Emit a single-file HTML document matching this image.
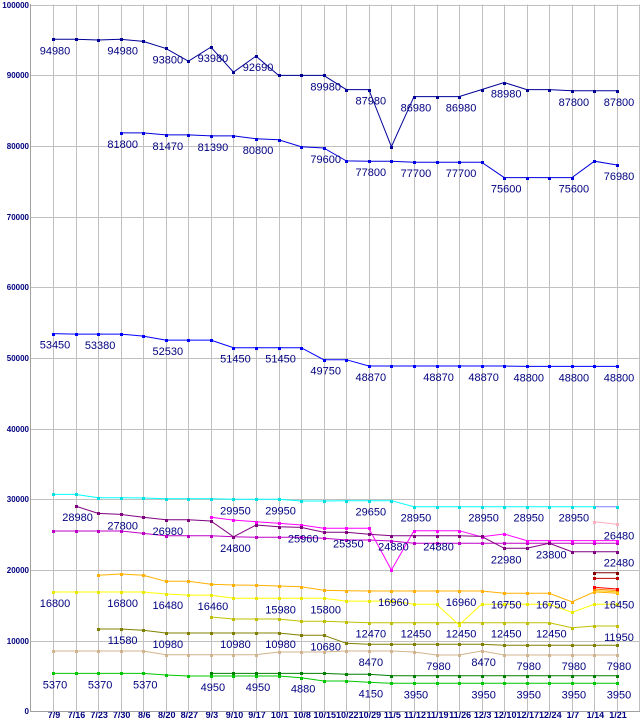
<!DOCTYPE html>
<html><head><meta charset="utf-8"><style>
html,body{margin:0;padding:0;background:#fff;}
svg{display:block;font-family:"Liberation Sans",sans-serif;}
</style></head><body>
<svg id="chart" width="640" height="720" viewBox="0 0 640 720" xmlns="http://www.w3.org/2000/svg">
<g id="grid"></g>
<g id="series"></g>
<g id="labels"></g>
<g id="axes"></g>
</svg>
<script>
const categories = ["7/9","7/16","7/23","7/30","8/6","8/20","8/27","9/3","9/10","9/17","10/1","10/8","10/15","10/22","10/29","11/5","11/12","11/19","11/26","12/3","12/10","12/17","12/24","1/7","1/14","1/21"];
const yTicks = [0,10000,20000,30000,40000,50000,60000,70000,80000,90000,100000];

const s1Start = 0;
const s1Values = [95090,95090,94990,95090,94800,93800,92000,93990,90440,92710,89980,89980,89980,87980,87980,79900,86980,86980,86980,87980,88980,87980,87980,87800,87800,87800];
const s1Labels = [[0,94980],[3,94980],[5,93800],[7,93980],[9,92690],[12,89980],[14,87980],[16,86980],[18,86980],[20,88980],[23,87800],[25,87800]];

const s2Start = 3;
const s2Values = [81850,81850,81570,81570,81430,81430,81010,80870,79890,79710,77890,77850,77850,77700,77700,77700,77700,75530,75530,75530,75530,77850,77300];
const s2Labels = [[3,81800],[5,81470],[7,81390],[9,80800],[12,79600],[14,77800],[16,77700],[18,77700],[20,75600],[23,75600],[25,76980]];

const s3Start = 0;
const s3Values = [53450,53380,53380,53380,53100,52530,52530,52530,51450,51450,51450,51450,49750,49750,48870,48870,48870,48870,48870,48870,48870,48800,48800,48800,48800,48800];
const s3Labels = [[0,53450],[2,53380],[5,52530],[8,51450],[10,51450],[12,49750],[14,48870],[17,48870],[19,48870],[21,48800],[23,48800],[25,48800]];

const cyanStart = 0;
const cyanValues = [30700,30700,30230,30230,30180,30090,30090,30090,30000,30000,30000,29760,29760,29800,29800,29800,28950,28950,28950,28950,28950,28950,28950,28950,28950];
const cyanLabels = [[8,29950],[10,29950],[14,29650],[16,28950],[19,28950],[21,28950],[23,28950]];

const lavStart = 24;
const lavValues = [28950,28950];

const purpleStart = 1;
const purpleValues = [29040,28000,27870,27450,27100,27100,26930,24700,26360,26120,26030,25330,25330,25050,24850,24850,24850,24850,24750,23070,23070,23770,22590,22590,22590];
const purpleLabels = [[1,28980],[3,27800],[5,26980],[8,24800],[11,25960],[13,25350],[15,24880],[17,24880],[20,22980],[22,23800],[25,22480]];

const magentaStart = 7;
const magentaValues = [27450,27060,26830,26600,26360,25890,25890,25890,20000,25560,25560,25560,24700,25090,24150,24150,24150,24150,24150];

const violetStart = 0;
const violetValues = [25510,25510,25510,25510,25180,24850,24850,24850,24700,24620,24620,24620,24480,24240,24240,24100,23770,23770,23770,23770,23770,23770,23770,23770,23770,23770];

const pinkStart = 24;
const pinkValues = [26830,26460];
const pinkLabels = [[25,26480]];

const orangeStart = 2;
const orangeValues = [19240,19430,19240,18400,18400,17970,17870,17830,17730,17630,17120,17070,17020,17020,17020,17020,17020,17020,16700,16700,16700,15500,16900,16700];
const orangeLabels = [[15,16960],[18,16960],[20,16750],[22,16750],[25,16450]];

const yellowStart = 0;
const yellowValues = [16880,16880,16880,16880,16880,16600,16450,16450,15990,15990,15990,15990,15990,15600,15600,15600,15140,15140,12210,15140,15140,15140,15140,14000,15140,15140];
const yellowLabels = [[0,16800],[3,16800],[5,16480],[7,16460],[10,15980],[12,15800]];

const oliveYStart = 7;
const oliveYValues = [13340,13060,13060,13060,12730,12730,12630,12540,12540,12540,12540,12540,12540,12540,12540,12540,11830,12070,12070];
const oliveYLabels = [[14,12470],[16,12450],[18,12450],[20,12450],[22,12450],[25,11950]];

const oliveStart = 2;
const oliveValues = [11650,11650,11460,11080,11080,11080,11080,11080,11080,10750,10750,9620,9480,9480,9480,9480,9480,9480,9340,9340,9340,9340,9340,9340];
const oliveLabels = [[3,11580],[5,10980],[8,10980],[10,10980],[12,10680]];

const tanStart = 0;
const tanValues = [8530,8530,8530,8530,8530,8010,8010,8010,8010,8010,8390,8390,8390,8530,8530,8530,8390,7970,7970,8530,7970,7970,7970,7970,7970,7970];
const tanLabels = [[14,8470],[17,7980],[19,8470],[21,7980],[23,7980],[25,7980]];

const greenStart = 0;
const greenValues = [5370,5370,5370,5370,5370,5140,4990,4990,4990,4990,4990,4760,4290,4290,4100,3960,3960,3960,3960,3960,3960,3960,3960,3960,3960,3960];
const greenLabels = [[0,5370],[2,5370],[4,5370],[7,4950],[9,4950],[11,4880],[14,4150],[16,3950],[19,3950],[21,3950],[23,3950],[25,3950]];

const dgreenStart = 7;
const dgreenValues = [5370,5370,5370,5370,5370,5370,5230,5230,5040,5040,5040,5040,5040,5040,5040,5040,5040,5040,5040];

const dredStart = 24;
const dredValues = [19600,19600];
const red2Start = 24;
const red2Values = [18800,18800];
const redStart = 24;
const redValues = [17550,17300];
const orange2Start = 24;
const orange2Values = [17300,17100];
const goldStart = 24;
const goldValues = [17100,16900];

const NS = "http://www.w3.org/2000/svg";
const X0 = 53, DX = 22.56, Y0 = 711.3, KY = 0.0070667;
function xPos(i){ return X0 + i*DX; }
function yPos(v){ return Y0 - v*KY; }
function mk(tag, attrs, parent){
  const e = document.createElementNS(NS, tag);
  for (const k in attrs) e.setAttribute(k, attrs[k]);
  parent.appendChild(e);
  return e;
}
const grid = document.getElementById('grid');
const axes = document.getElementById('axes');
const sg = document.getElementById('series');
const lg = document.getElementById('labels');

// grid
yTicks.forEach(v => {
  const l = mk('line', {x1:30.5, x2:639.5, y1:Math.round(yPos(v))+0.5, y2:Math.round(yPos(v))+0.5, stroke:'#c0c0c0','stroke-width':1}, grid);
  
  
  const t = mk('text', {x:29, y:Math.round(yPos(v))+3, 'text-anchor':'end', 'font-size':8, 'font-weight':'bold', fill:'#000080'}, axes);
  t.textContent = v;
  
  
});
categories.forEach((c,i) => {
  const l = mk('line', {x1:Math.round(xPos(i))+0.5, x2:Math.round(xPos(i))+0.5, y1:4.5, y2:711.5, stroke:'#c0c0c0','stroke-width':1}, grid);
  
  
  const t = mk('text', {x:xPos(i)+1, y:718, 'text-anchor':'middle', 'font-size':9, 'font-weight':'bold', fill:'#000080'}, axes);
  t.textContent = c;
  
  
});
const rl = mk('line', {x1:639.5, x2:639.5, y1:4.5, y2:711.5, stroke:'#c0c0c0'}, grid);


const ax = mk('line', {x1:30.5, x2:30.5, y1:4, y2:712, stroke:'#a0a0a0'}, axes);


const bx = mk('line', {x1:30, x2:640, y1:711.5, y2:711.5, stroke:'#a0a0a0'}, axes);



function drawSeries(name, start, values, color, mcolor){
  const g = mk('g', {}, sg);
  
  
  const pts = values.map((v,k) => xPos(start+k).toFixed(1)+','+yPos(v).toFixed(1)).join(' ');
  const pl = mk('polyline', {points:pts, fill:'none', stroke:color, 'stroke-width':1}, g);
  
  
  values.forEach((v,k) => {
    const r = mk('rect', {x:Math.round(xPos(start+k))-1, y:Math.round(yPos(v))-1, width:3, height:3, fill:mcolor||color}, g);
    
    
  });
}
function drawLabels(name, start, values, labels){
  labels.forEach(([i,txt]) => {
    const v = values[i-start];
    const t = mk('text', {x:xPos(i)+2, y:yPos(v)+15, 'text-anchor':'middle', 'font-size':11, fill:'#000080'}, lg);
    t.textContent = txt;
    
    
  });
}

drawSeries('tan-series', tanStart, tanValues, '#d2b48c');
drawSeries('dark-green-series', dgreenStart, dgreenValues, '#008000');
drawSeries('green-series', greenStart, greenValues, '#00c800');
drawSeries('olive-series', oliveStart, oliveValues, '#808000');
drawSeries('olive-yellow-series', oliveYStart, oliveYValues, '#c0c000');
drawSeries('yellow-series', yellowStart, yellowValues, '#ffff00', '#e8e800');
drawSeries('orange-series', orangeStart, orangeValues, '#ffb000');
drawSeries('gold-series', goldStart, goldValues, '#ffc800');
drawSeries('orange2-series', orange2Start, orange2Values, '#ff8000');
drawSeries('red-series', redStart, redValues, '#ff0000');
drawSeries('red2-series', red2Start, red2Values, '#c00000');
drawSeries('dark-red-series', dredStart, dredValues, '#800000');
drawSeries('violet-series', violetStart, violetValues, '#c000c8');
drawSeries('magenta-series', magentaStart, magentaValues, '#ff00ff');
drawSeries('purple-series', purpleStart, purpleValues, '#800080');
drawSeries('pink-series', pinkStart, pinkValues, '#ffb0c0');
drawSeries('cyan-series', cyanStart, cyanValues, '#00ffff', '#00e0e0');
drawSeries('lavender-series', lavStart, lavValues, '#8080ff', '#00e0e0');
drawSeries('blue-53k-series', s3Start, s3Values, '#0000ff');
drawSeries('blue-80k-series', s2Start, s2Values, '#0000e0');
drawSeries('navy-95k-series', s1Start, s1Values, '#000098');

drawLabels('navy-95k', s1Start, s1Values, s1Labels);
drawLabels('blue-80k', s2Start, s2Values, s2Labels);
drawLabels('blue-53k', s3Start, s3Values, s3Labels);
drawLabels('cyan', cyanStart, cyanValues, cyanLabels);
drawLabels('purple', purpleStart, purpleValues, purpleLabels);
drawLabels('pink', pinkStart, pinkValues, pinkLabels);
drawLabels('orange', orangeStart, orangeValues, orangeLabels);
drawLabels('yellow', yellowStart, yellowValues, yellowLabels);
drawLabels('olive-yellow', oliveYStart, oliveYValues, oliveYLabels);
drawLabels('olive', oliveStart, oliveValues, oliveLabels);
drawLabels('tan', tanStart, tanValues, tanLabels);
drawLabels('green', greenStart, greenValues, greenLabels);
</script>
</body></html>
